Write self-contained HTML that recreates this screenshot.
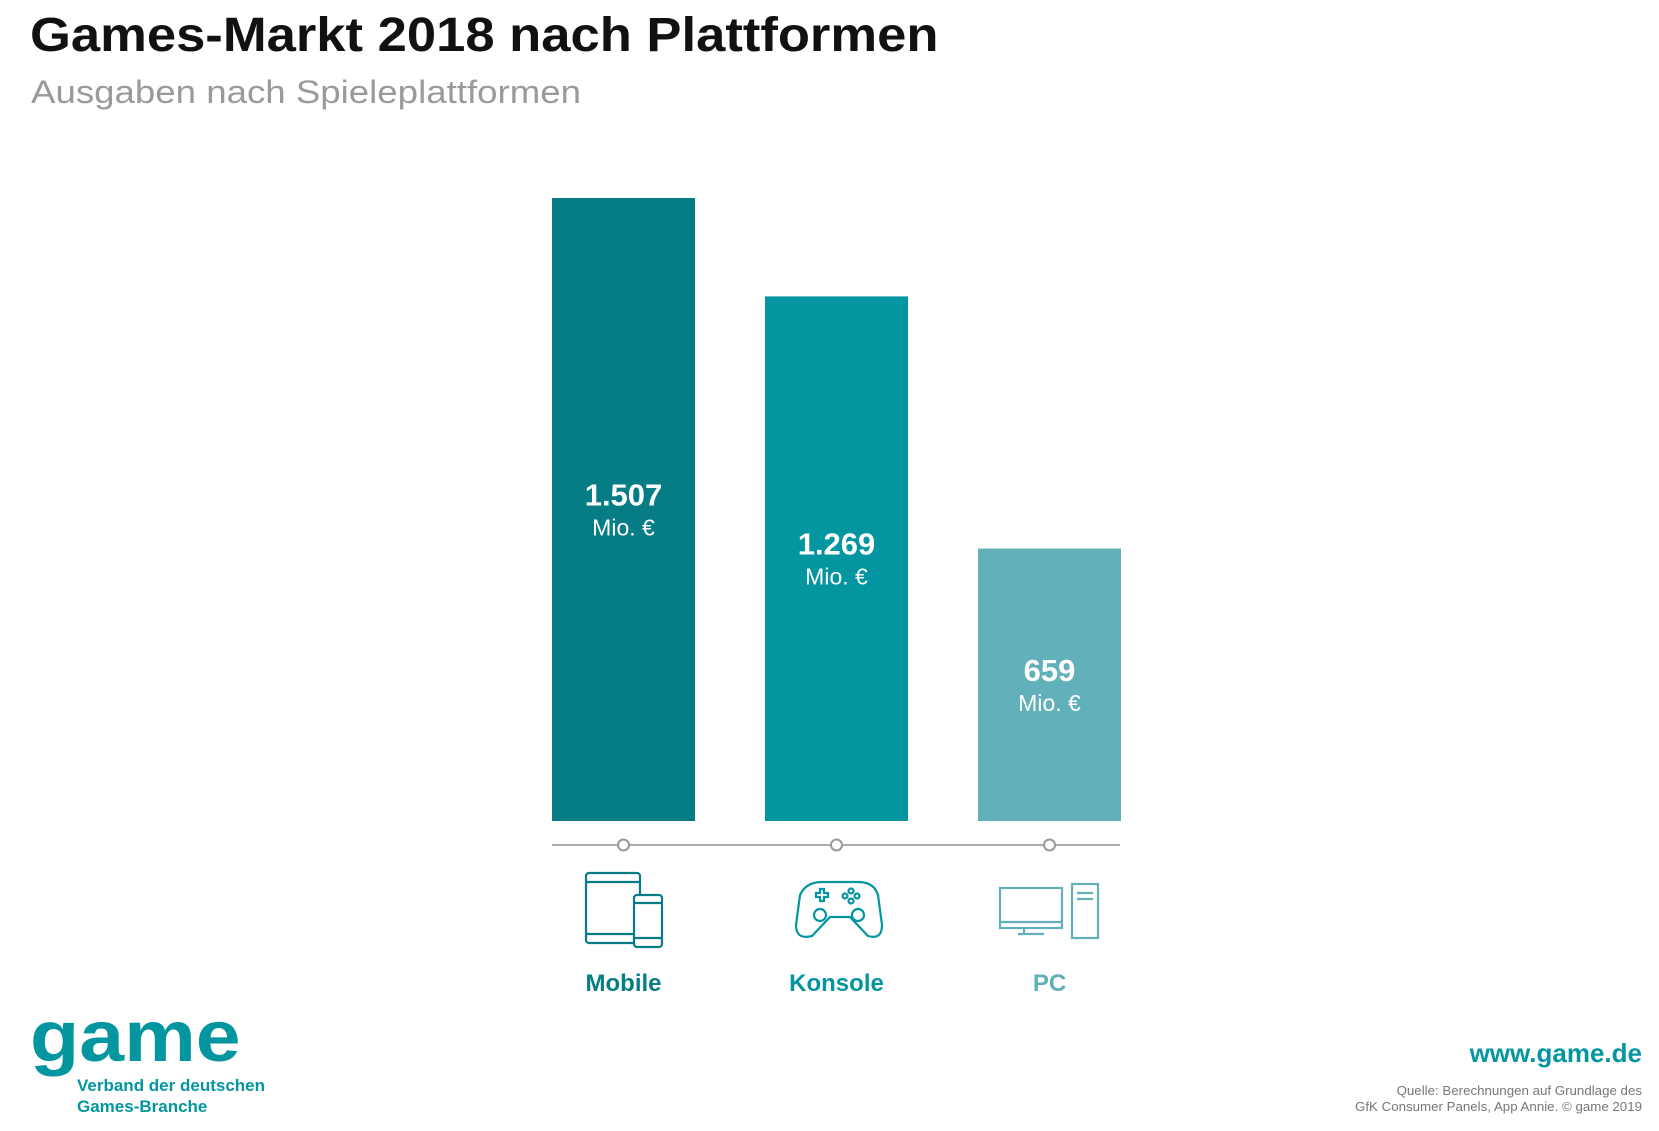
<!DOCTYPE html>
<html><head><meta charset="utf-8"><style>
body{margin:0;width:1659px;height:1131px;background:#fff;font-family:"Liberation Sans",sans-serif;overflow:hidden;position:relative}
.abs{position:absolute}
</style></head><body>
<div class="abs" style="left:30px;top:8px;font-size:48px;font-weight:bold;color:#111;transform-origin:0 0;transform:scaleX(1.095);white-space:nowrap">Games-Markt 2018 nach Plattformen</div>
<div class="abs" style="left:31px;top:74px;font-size:32px;color:#9a9a9a;transform-origin:0 0;transform:scaleX(1.145);white-space:nowrap">Ausgaben nach Spieleplattformen</div>
<svg class="abs" style="left:0;top:0" width="1659" height="1131" id="chart"></svg>
<div class="abs" style="left:30px;top:1001px;font-size:72px;font-weight:bold;color:#0496a0;line-height:1;transform-origin:0 0;transform:scaleX(1.12)">game</div>
<div class="abs" style="left:77px;top:1075px;font-size:17px;font-weight:bold;color:#0496a0;line-height:21px">Verband der deutschen<br>Games-Branche</div>
<div class="abs" style="right:17px;top:1038px;font-size:26px;font-weight:bold;color:#0496a0">www.game.de</div>
<div class="abs" style="right:17px;top:1083px;font-size:13.3px;color:#777;text-align:right;line-height:16px">Quelle: Berechnungen auf Grundlage des<br>GfK Consumer Panels, App Annie. © game 2019</div>
<script>
const categories=["Mobile","Konsole","PC"];
const values=[1507,1269,659];
const valueLabels=["1.507","1.269","659"];
const colors=["#067c85","#0496a0","#62b0b9"];
const svg=document.getElementById('chart');
const NS='http://www.w3.org/2000/svg';
const baseY=821, scale=623/1507, barW=143, x0=552, step=213;
function y(v){return baseY-v*scale;}
function mk(t,a){const e=document.createElementNS(NS,t);for(const k in a)e.setAttribute(k,a[k]);svg.appendChild(e);return e;}
const axis=mk('line',{x1:552,x2:1120,y1:845,y2:845,stroke:'#aaa','stroke-width':2});


categories.forEach((c,i)=>{
  const x=x0+i*step, cx=x+barW/2, top=y(values[i]), mid=(top+baseY)/2;
  const r=mk('rect',{x:x,y:top,width:barW,height:baseY-top,fill:colors[i]});
  
  
  const t=mk('text',{x:cx,y:mid-4,'text-anchor':'middle','font-size':31,'font-weight':'bold',fill:'#fff','font-family':'Liberation Sans'});
  t.textContent=valueLabels[i];
  
  
  const u=mk('text',{x:cx,y:mid+26,'text-anchor':'middle','font-size':23,fill:'#fff','font-family':'Liberation Sans'});
  u.textContent='Mio. €';
  
  
  const ci=mk('circle',{cx:cx,cy:845,r:5.5,fill:'#fff',stroke:'#999','stroke-width':2});
  
  
  const l=mk('text',{x:cx,y:991,'text-anchor':'middle','font-size':24,'font-weight':'bold',fill:colors[i],'font-family':'Liberation Sans'});
  l.textContent=c;
  
  
});
const icons=document.createElementNS(NS,'g');


icons.innerHTML=`
<g fill="none" stroke="#067c85" stroke-width="2.2">
<rect x="586" y="873" width="54" height="70" rx="3"/><line x1="586" y1="882" x2="640" y2="882"/><line x1="586" y1="934" x2="640" y2="934"/>
<rect x="634" y="895" width="28" height="52" rx="3" fill="#fff"/><line x1="634" y1="903" x2="662" y2="903"/><line x1="634" y1="938" x2="662" y2="938"/>
</g>
<g fill="none" stroke="#0496a0" stroke-width="2.2">
<path d="M800 895 Q806 882 822 882 L858 882 Q874 882 878 895 L882 925 Q882 940 868 936 L850 917 L830 917 L812 936 Q796 940 796 925 Z"/>
<circle cx="820" cy="915" r="6"/><circle cx="858" cy="915" r="6"/>
<path d="M816 893 h4 v-4 h4 v4 h4 v4 h-4 v4 h-4 v-4 h-4z"/>
<circle cx="851" cy="891" r="2.5"/><circle cx="857" cy="896" r="2.5"/><circle cx="845" cy="896" r="2.5"/><circle cx="851" cy="901" r="2.5"/>
</g>
<g fill="none" stroke="#62b0b9" stroke-width="2.2">
<rect x="1000" y="888" width="62" height="40"/><line x1="1000" y1="922" x2="1062" y2="922"/><line x1="1024" y1="928" x2="1024" y2="934"/><line x1="1018" y1="934" x2="1044" y2="934"/>
<rect x="1072" y="884" width="26" height="54"/><line x1="1077" y1="893" x2="1093" y2="893"/><line x1="1077" y1="899" x2="1093" y2="899"/>
</g>`;
svg.appendChild(icons);
</script>
</body></html>
